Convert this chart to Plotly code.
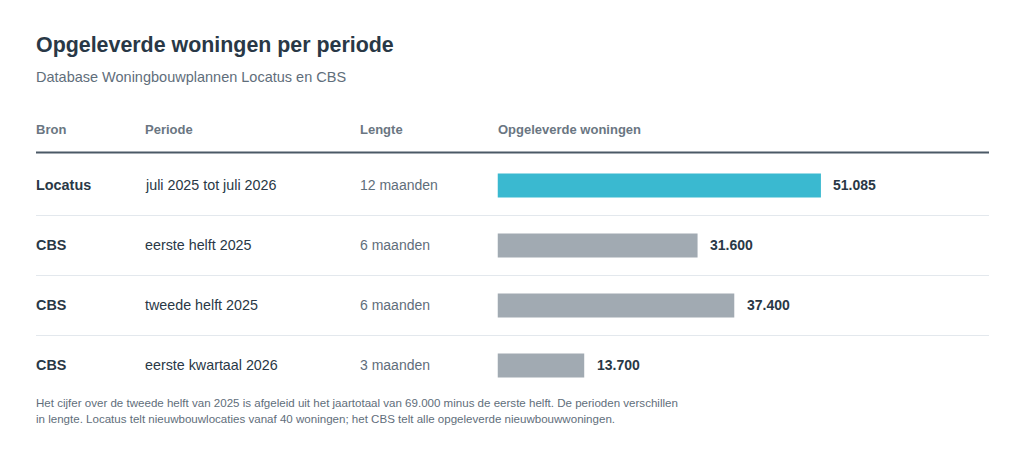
import plotly.graph_objects as go

W, H = 1024, 459

bron = ["Locatus", "CBS", "CBS", "CBS"]
periode = ["juli 2025 tot juli 2026", "eerste helft 2025", "tweede helft 2025", "eerste kwartaal 2026"]
lengte = ["12 maanden", "6 maanden", "6 maanden", "3 maanden"]
woningen = [51085, 31600, 37400, 13700]
bar_colors = ["#3ab9d0", "#a1aab2"]  # highlight, rest
headers = ["Bron", "Periode", "Lengte", "Opgeleverde woningen"]

title = "Opgeleverde woningen per periode"
subtitle = "Database Woningbouwplannen Locatus en CBS"
footnote_lines = [
    "Het cijfer over de tweede helft van 2025 is afgeleid uit het jaartotaal van 69.000 minus de eerste helft. De perioden verschillen",
    "in lengte. Locatus telt nieuwbouwlocaties vanaf 40 woningen; het CBS telt alle opgeleverde nieuwbouwwoningen.",
]

FONT = "Liberation Sans, Arial, Helvetica, sans-serif"
DARK = "#293846"
GRAY = "#5f6e7b"
HEAD = "#6a7682"

OX, OY = 8, 8   # page offset of the figure
TX = -2         # annotation text padding

def px(x):
    return (x - OX) / W

def py(y):
    return 1 - (y - OY) / H

rows = list(range(len(woningen)))
colors = [bar_colors[0] if i == 0 else bar_colors[1] for i in rows]

x0_px, x1_px = 497.5, 989
scale = 0.006331
xmax = (x1_px - x0_px) / scale

fig = go.Figure()
fig.add_trace(go.Bar(
    x=woningen, y=rows, orientation="h", width=0.4,
    marker=dict(color=colors, line=dict(width=0)),
    hoverinfo="skip",
))

fig.update_layout(
    width=W, height=H,
    margin=dict(l=0, r=0, t=0, b=0),
    paper_bgcolor="white", plot_bgcolor="white",
    showlegend=False,
    font=dict(family=FONT, color=DARK),
    xaxis=dict(domain=[px(x0_px), px(x1_px)], range=[0, xmax], visible=False, fixedrange=True),
    yaxis=dict(domain=[py(395.5), py(155.5)], range=[3.5, -0.5], visible=False, fixedrange=True),
)

def tx(x):
    return px(x + TX)

ann = []
ann.append(dict(text=f"<b>{title}</b>", x=tx(36), y=py(45), xref="paper", yref="paper",
                xanchor="left", yanchor="middle", showarrow=False,
                font=dict(size=21.4, color=DARK, family=FONT)))
ann.append(dict(text=subtitle, x=tx(36), y=py(77), xref="paper", yref="paper",
                xanchor="left", yanchor="middle", showarrow=False,
                font=dict(size=14.5, color=GRAY, family=FONT)))
header_x = [36, 145, 360, 498]
for hx, ht in zip(header_x, headers):
    ann.append(dict(text=f"<b>{ht}</b>", x=tx(hx), y=py(129), xref="paper", yref="paper",
                    xanchor="left", yanchor="middle", showarrow=False,
                    font=dict(size=13, color=HEAD, family=FONT)))
for i in rows:
    ann.append(dict(text=f"<b>{bron[i]}</b>", x=tx(36), y=i, xref="paper", yref="y",
                    xanchor="left", yanchor="middle", yshift=1, showarrow=False,
                    font=dict(size=14.4, color=DARK, family=FONT)))
    ann.append(dict(text=periode[i], x=tx(145), y=i, xref="paper", yref="y",
                    xanchor="left", yanchor="middle", yshift=1, showarrow=False,
                    font=dict(size=14.3, color=DARK, family=FONT)))
    ann.append(dict(text=lengte[i], x=tx(360), y=i, xref="paper", yref="y",
                    xanchor="left", yanchor="middle", yshift=1, showarrow=False,
                    font=dict(size=14, color=GRAY, family=FONT)))
    label = f"{woningen[i]:,}".replace(",", ".")
    ann.append(dict(text=f"<b>{label}</b>", x=woningen[i], y=i, xref="x", yref="y",
                    xanchor="left", yanchor="middle", xshift=10.5, yshift=1, showarrow=False,
                    font=dict(size=14, color=DARK, family=FONT)))
for k, line in enumerate(footnote_lines):
    ann.append(dict(text=line, x=tx(36), y=py(403 + 16 * k), xref="paper", yref="paper",
                    xanchor="left", yanchor="middle", showarrow=False,
                    font=dict(size=11.55, color=GRAY, family=FONT)))
fig.update_layout(annotations=ann)

shapes = [dict(type="line", xref="paper", yref="paper", x0=px(36), x1=px(989),
               y0=py(152.5), y1=py(152.5), line=dict(color="#4b5966", width=2))]
for b in [0.5, 1.5, 2.5]:
    shapes.append(dict(type="line", xref="paper", yref="y", x0=px(36), x1=px(989),
                       y0=b, y1=b, line=dict(color="#e3e8ed", width=1)))
fig.update_layout(shapes=shapes)

fig.write_html("out.html", config={"displayModeBar": False})
